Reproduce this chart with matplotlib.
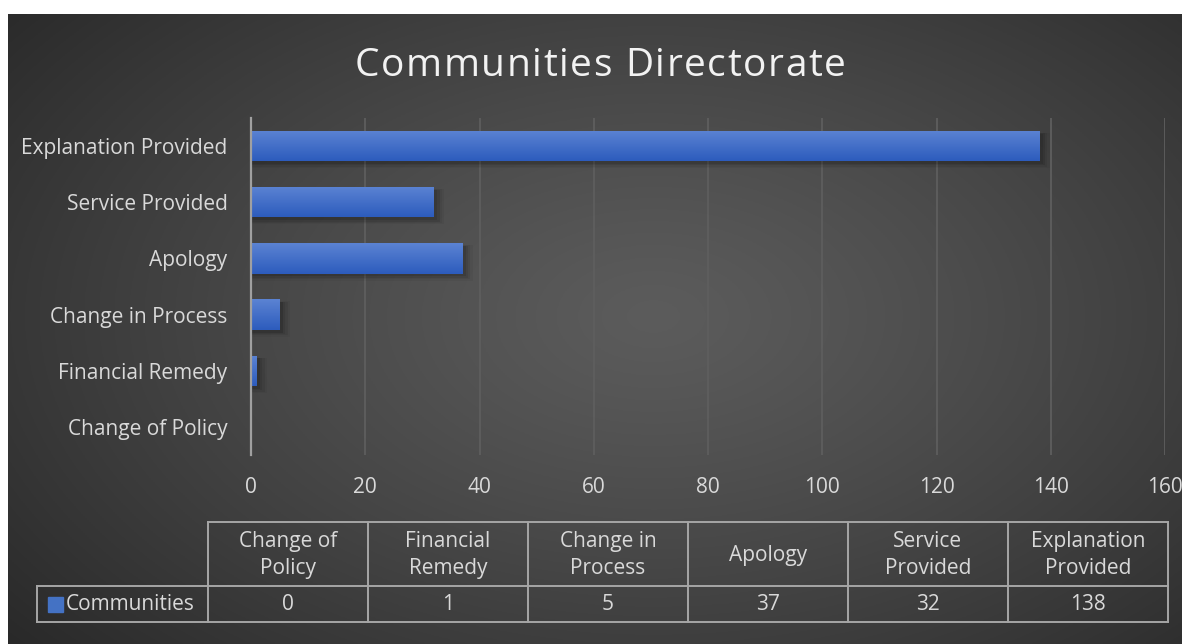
import numpy as np
import matplotlib as mpl
mpl.use('Agg')
import matplotlib.pyplot as plt
from matplotlib.patches import Rectangle

plt.rcParams['font.family'] = ['Open Sans', 'DejaVu Sans']

# data
categories = ['Change of Policy', 'Financial Remedy', 'Change in Process',
              'Apology', 'Service Provided', 'Explanation Provided']
header_labels = ['Change of\nPolicy', 'Financial\nRemedy', 'Change in\nProcess',
                 'Apology', 'Service\nProvided', 'Explanation\nProvided']
values = [0, 1, 5, 37, 32, 138]
series_name = 'Communities'
title = 'Communities Directorate'
xticks = [0, 20, 40, 60, 80, 100, 120, 140, 160]

W, H = 1182, 644
fig = plt.figure(figsize=(W / 100, H / 100), dpi=100, facecolor='white')

# radial gradient background (white strip on top/left)
bg = fig.add_axes([8 / W, 0, 1 - 8 / W, 1 - 14 / H])
yy, xx = np.mgrid[0:1:300j, 0:1:550j]
r = np.sqrt(((xx - 0.55) / 0.75) ** 2 + ((yy - 0.52) / 0.85) ** 2)
r = np.clip(r, 0, 1)
shade = 0.36 - 0.21 * r ** 1.2
bg.imshow(np.dstack([shade] * 3), aspect='auto', extent=[0, 1, 0, 1], origin='lower')
bg.set_axis_off()

txt = '#d9d9d9'
fs = 15
ax = fig.add_axes([251 / W, 1 - 455 / H, (1165 - 251) / W, (455 - 118) / H])
ax.patch.set_alpha(0)
ypos = np.arange(len(categories))
bh = 0.54

# soft shadow
for k, a in enumerate([0.10, 0.08, 0.06, 0.04]):
    ax.barh(ypos - 0.05 - k * 0.01, [v + 0.4 + k * 0.4 if v > 0 else 0 for v in values],
            height=bh + k * 0.03, left=0.2, color='black', alpha=a, zorder=2)

bars = ax.barh(ypos, values, height=bh, color='#4472c4', zorder=3)
grad = np.linspace(0, 1, 64).reshape(-1, 1)
cmap = mpl.colors.LinearSegmentedColormap.from_list('b', ['#2d5cbd', '#5b83d3'])
for b in bars:
    if b.get_width() <= 0:
        continue
    x0, y0 = b.get_x(), b.get_y()
    im = ax.imshow(grad, cmap=cmap, aspect='auto', origin='lower',
                   extent=[x0, x0 + b.get_width(), y0, y0 + b.get_height()], zorder=4)
    im.set_clip_path(b)

ax.set_xlim(0, 160)
ax.set_ylim(-0.5, len(categories) - 0.5)
ax.set_xticks(xticks)
ax.set_yticks(ypos)
ax.set_yticklabels(categories)
ax.grid(axis='x', color='#5e5e5e', linewidth=1.3, zorder=1)
ax.tick_params(axis='both', length=0, colors=txt, labelsize=fs)
ax.tick_params(axis='y', pad=17)
ax.tick_params(axis='x', pad=16)
for s in ['top', 'right', 'bottom']:
    ax.spines[s].set_visible(False)
ax.spines['left'].set_color('#a0a0a0')
ax.spines['left'].set_linewidth(1.6)
ax.spines['left'].set_zorder(5)

# overlay axes in pixel coordinates for title and table
ov = fig.add_axes([0, 0, 1, 1])
ov.set_xlim(0, W)
ov.set_ylim(H, 0)
ov.set_axis_off()
ov.patch.set_alpha(0)

# letter-spaced title
renderer = fig.canvas.get_renderer()
tfs, sp = 28, 1.6


def text_w(s):
    if not s:
        return 0.0
    t = ov.text(0, 0, s, fontsize=tfs)
    w = t.get_window_extent(renderer).width
    t.remove()
    return w


total = text_w(title) + sp * (len(title) - 1)
start = 600 - total / 2
for i, ch in enumerate(title):
    ov.text(start + text_w(title[:i]) + sp * i, 76, ch, fontsize=tfs,
            color='#f2f2f2', ha='left', va='baseline')

col0, colw = 208, 160
top, mid, bot = 522, 586, 622
lc = '#a6a6a6'
lw = 1.4
ncol = len(values)
ov.plot([col0, col0 + ncol * colw], [top, top], color=lc, lw=lw)
ov.plot([37, col0 + ncol * colw], [mid, mid], color=lc, lw=lw)
ov.plot([37, col0 + ncol * colw], [bot, bot], color=lc, lw=lw)
ov.plot([37, 37], [mid, bot], color=lc, lw=lw)
for i in range(ncol + 1):
    ov.plot([col0 + i * colw] * 2, [top, bot], color=lc, lw=lw)
for i, (lab, v) in enumerate(zip(header_labels, values)):
    cx = col0 + (i + 0.5) * colw
    ov.text(cx, (top + mid) / 2 + 1, lab, ha='center', va='center', color=txt,
            fontsize=fs, linespacing=1.35)
    ov.text(cx, (mid + bot) / 2, str(v), ha='center', va='center', color=txt, fontsize=fs)
ov.add_patch(Rectangle((48, 597), 15, 15, color='#4472c4'))
ov.text(66, (mid + bot) / 2, series_name, ha='left', va='center', color=txt, fontsize=fs)

fig.savefig('out.png', dpi=100, facecolor='white')
